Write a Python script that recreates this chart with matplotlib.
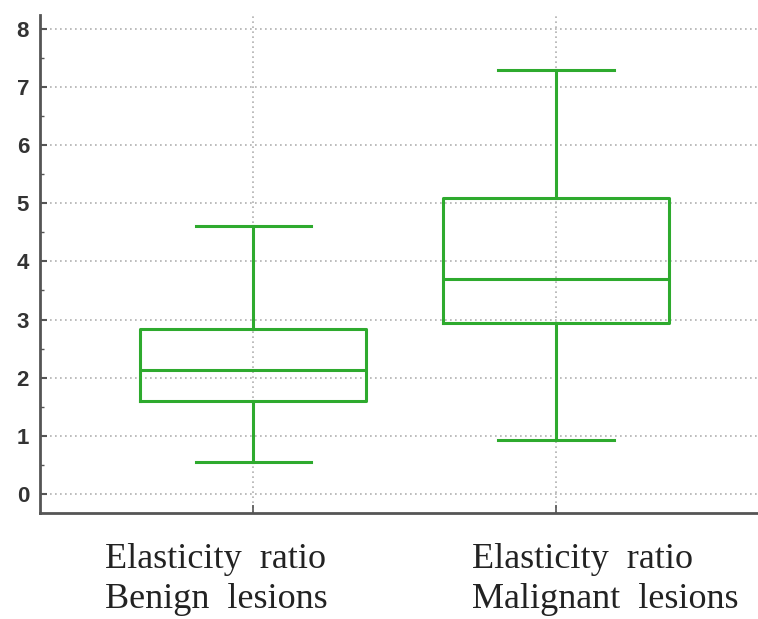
import matplotlib
matplotlib.use('Agg')
import matplotlib.pyplot as plt
import matplotlib.transforms as mtransforms
from matplotlib.ticker import MultipleLocator

# 박스플롯 통계값
groups = ['Elasticity  ratio\nBenign  lesions', 'Elasticity  ratio\nMalignant  lesions']
whislo = [0.55, 0.93]
q1 = [1.60, 2.94]
med = [2.13, 3.70]
q3 = [2.84, 5.09]
whishi = [4.61, 7.30]

green = '#2eaa2e'

stats = []
for i in range(len(groups)):
    stats.append({'label': groups[i], 'whislo': whislo[i], 'q1': q1[i], 'med': med[i],
                  'q3': q3[i], 'whishi': whishi[i], 'fliers': []})

fig = plt.figure(figsize=(7.58, 6.19), dpi=100)
ax = fig.add_axes([0.053, 0.171, 0.947, 0.805])

line_kw = dict(color=green, linewidth=2.2)
ax.bxp(stats, positions=[1, 2], widths=0.745, showfliers=False,
       boxprops=line_kw, whiskerprops=line_kw, capprops=line_kw,
       medianprops=line_kw, capwidths=0.38)

ax.set_xlim(0.297, 2.667)
ax.set_ylim(-0.33, 8.24)

# 격자
ax.grid(True, color='#b0b0b0', linestyle=(0, (1, 2)), linewidth=1.2)
ax.set_axisbelow(True)
ax.yaxis.set_major_locator(MultipleLocator(1))
ax.yaxis.set_minor_locator(MultipleLocator(0.5))

for side in ['top', 'right']:
    ax.spines[side].set_visible(False)
for side in ['left', 'bottom']:
    ax.spines[side].set_color('#555555')
    ax.spines[side].set_linewidth(2)

ax.tick_params(axis='y', which='major', direction='in', length=5, width=1.5, color='#555555',
               labelsize=16, pad=8)
ax.tick_params(axis='y', which='minor', direction='in', length=3, width=1, color='#555555')
ax.tick_params(axis='x', direction='in', length=6, width=1.2, color='#555555')
for lab in ax.get_yticklabels():
    lab.set_fontweight('bold')
    lab.set_family('Liberation Sans')
    lab.set_color('#333333')

# x축 라벨: 왼쪽 정렬, 눈금에서 약간 어긋나 있음
ax.set_xticklabels(['', ''])
label_offsets = [-0.49, -0.277]
trans = mtransforms.blended_transform_factory(ax.transData, fig.transFigure)
for pos, off, g in zip([1, 2], label_offsets, groups):
    ax.text(pos + off, 1 - 543 / 619, g, transform=trans, ha='left', va='top',
            multialignment='left', family='Liberation Serif', fontsize=26,
            color='#222222', linespacing=1.28)

fig.savefig('out.png', dpi=100)
